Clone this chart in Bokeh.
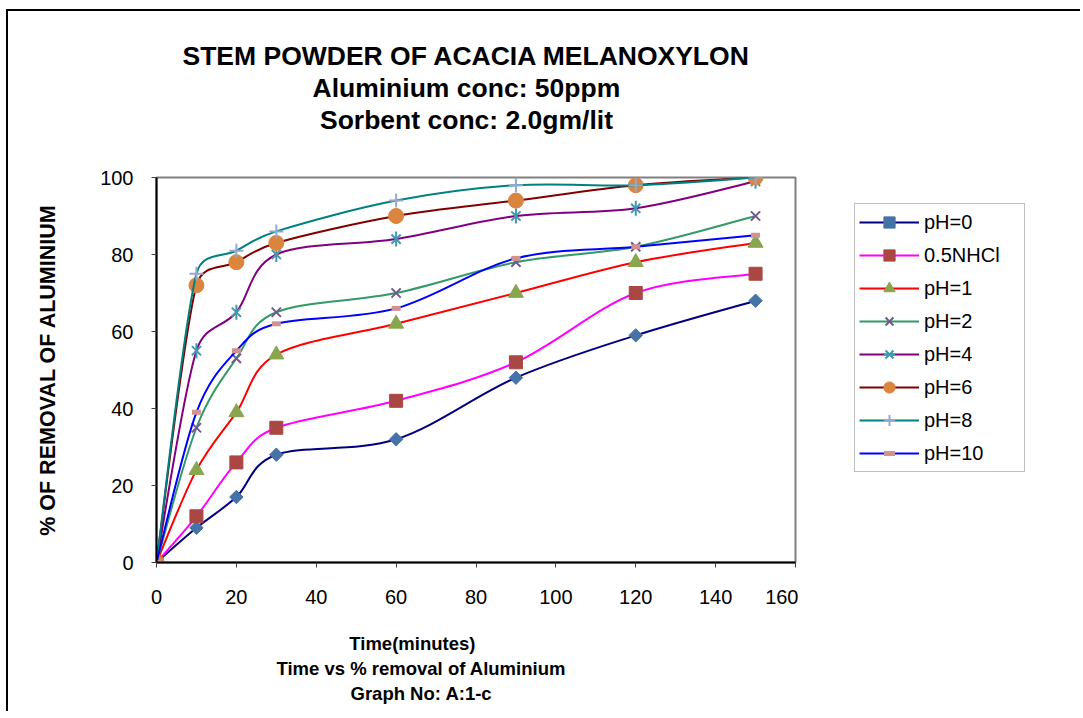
import numpy as np
from bokeh.plotting import figure
from bokeh.layouts import row
from bokeh.models import Range1d, FixedTicker, Title, Legend, LegendItem
from bokeh.embed import file_html
from bokeh.resources import INLINE

# ---------------- data ----------------
time_min = [0, 10, 20, 30, 60, 90, 120, 150]
ph0 = [0, 9, 17, 28, 32, 48, 59, 68]
nhcl = [0, 12, 26, 35, 42, 52, 70, 75]
ph1 = [0, 24, 39, 54, 62, 70, 78, 83]
ph2 = [0, 35, 53, 65, 70, 78, 82, 90]
ph4 = [0, 55, 65, 80, 84, 90, 92, 99]
ph6 = [0, 72, 78, 83, 90, 94, 98, 100]
ph8 = [0, 75, 81, 86, 94, 98, 98, 100]
ph10 = [0, 39, 55, 62, 66, 79, 82, 85]
series_names = ["pH=0", "0.5NHCl", "pH=1", "pH=2", "pH=4", "pH=6", "pH=8", "pH=10"]
series_values = [ph0, nhcl, ph1, ph2, ph4, ph6, ph8, ph10]
x_ticks = [0, 20, 40, 60, 80, 100, 120, 140, 160]
y_ticks = [0, 20, 40, 60, 80, 100]

title_lines = ["STEM POWDER OF ACACIA MELANOXYLON", "Aluminium conc: 50ppm", "Sorbent conc: 2.0gm/lit"]
xtitle_lines = ["Time(minutes)", "Time vs % removal of Aluminium", "Graph No: A:1-c"]
y_title = "% OF REMOVAL OF ALUMINIUM"

# ---------------- styles ----------------
line_colors = ["#000080", "#FF00FF", "#FF0000", "#339966", "#800080", "#800000", "#008080", "#0000FF"]
FONT = "Liberation Sans"

FRAME_W, FRAME_H = 639, 385
SX = FRAME_W / 160.0
SY = FRAME_H / 100.0


def smooth_controls(xs, ys):
    """Bezier control points in the style of a spreadsheet 'smoothed line'."""
    px = np.asarray(xs, float) * SX
    py = np.asarray(ys, float) * SY
    n = len(px)
    out = {k: [] for k in ("x0", "y0", "x1", "y1", "cx0", "cy0", "cx1", "cy1")}
    for i in range(n - 1):
        i0, i1, i2, i3 = max(i - 1, 0), i, i + 1, min(i + 2, n - 1)
        seg = np.hypot(px[i2] - px[i1], py[i2] - py[i1])
        t1 = np.array([px[i2] - px[i0], py[i2] - py[i0]]) / 6.0
        t2 = np.array([px[i3] - px[i1], py[i3] - py[i1]]) / 6.0
        for t in (t1, t2):
            ln = np.hypot(*t)
            if ln > 0.5 * seg and ln > 0:
                t *= 0.5 * seg / ln
        c1 = (px[i1] + t1[0], py[i1] + t1[1])
        c2 = (px[i2] - t2[0], py[i2] - t2[1])
        out["x0"].append(xs[i1]); out["y0"].append(ys[i1])
        out["x1"].append(xs[i2]); out["y1"].append(ys[i2])
        out["cx0"].append(c1[0] / SX); out["cy0"].append(c1[1] / SY)
        out["cx1"].append(c2[0] / SX); out["cy1"].append(c2[1] / SY)
    return out


# marker style per series: list of (marker, size, angle, line_width, fill, line colour)
marker_styles = {
    "pH=0": [("square", 9.5, np.pi / 4, 1, "#4572A7", "#4572A7")],
    "0.5NHCl": [("square", 13, 0, 1, "#AA4643", "#AA4643")],
    "pH=1": [("triangle", 15, 0, 1, "#89A54E", "#89A54E")],
    "pH=2": [("x", 13, 0, 2, None, "#71588F")],
    "pH=4": [("x", 13, 0, 2, None, "#4198AF"), ("dash", 15, np.pi / 2, 2, None, "#4198AF")],
    "pH=6": [("circle", 15, 0, 1, "#DB843D", "#DB843D")],
    "pH=8": [("cross", 14, 0, 2, None, "#93A9CF")],
    "pH=10": [("dash", 9, 0, 5, None, "#D19392")],
}

H = 700
p = figure(width=790, height=H, x_range=Range1d(0, 160), y_range=Range1d(0, 100),
           output_backend="svg", toolbar_location=None,
           min_border_left=148, min_border_right=3, min_border_top=166, min_border_bottom=149,
           background_fill_color="white", border_fill_color="white")

p.xgrid.visible = False
p.ygrid.visible = False
p.outline_line_color = "#808080"
p.outline_line_width = 2

p.xaxis.ticker = FixedTicker(ticks=x_ticks)
p.yaxis.ticker = FixedTicker(ticks=y_ticks)
for ax in (p.xaxis[0], p.yaxis[0]):
    ax.major_label_text_font = FONT
    ax.major_label_text_font_size = "20px"
    ax.major_label_text_color = "black"
    ax.major_tick_out = 5
    ax.major_tick_in = 0
    ax.minor_tick_out = 0
    ax.minor_tick_in = 0
    ax.axis_line_color = "black"
    ax.axis_line_width = 2
    ax.major_tick_line_color = "#404040"
p.xaxis.major_label_standoff = 22
p.yaxis.major_label_standoff = 18
p.yaxis.axis_label = y_title
p.yaxis.axis_label_text_font = FONT
p.yaxis.axis_label_text_font_style = "bold"
p.yaxis.axis_label_text_font_size = "21.5px"
p.yaxis.axis_label_text_color = "black"
p.yaxis.axis_label_standoff = 37

# legend panel: a second, axis-less figure to the right of the chart
# (its plot frame is aligned with the chart's frame by the row layout)
p2 = figure(width=282, height=H, x_range=Range1d(0, 1), y_range=Range1d(0, 1),
            output_backend="svg", toolbar_location=None, min_border=0,
            background_fill_color="white", border_fill_color="white")
p2.axis.visible = False
p2.grid.visible = False
p2.outline_line_color = None

items = []
for name, vals, lc in zip(series_names, series_values, line_colors):
    ctrl = smooth_controls(time_min, vals)
    p.bezier(line_color=lc, line_width=2, **ctrl)
    leg = [p2.line(x=[-2, -1], y=[-2, -2], line_color=lc, line_width=2)]
    for mk, sz, ang, lw, fc, mc in marker_styles[name]:
        p.scatter(time_min, vals, marker=mk, size=sz, angle=ang, line_width=lw,
                  fill_color=fc, line_color=mc)
        leg.append(p2.scatter(x=[-2], y=[-2], marker=mk, size=sz, angle=ang, line_width=lw,
                              fill_color=fc, line_color=mc))
    items.append(LegendItem(label=name, renderers=leg))

legend = Legend(items=items, location=(56, 90))
legend.label_text_font = FONT
legend.label_text_font_size = "20px"
legend.label_text_color = "black"
legend.glyph_width = 60
legend.glyph_height = 28
legend.label_height = 28
legend.label_width = 96
legend.label_standoff = 5
legend.spacing = 5
legend.padding = 4
legend.margin = 0
legend.border_line_color = "#808080"
legend.border_line_width = 1
legend.background_fill_color = "white"
legend.background_fill_alpha = 1
p2.add_layout(legend, "center")

# chart title lines: the first added sits closest to the plot
p.add_layout(Title(text=" ", text_font=FONT, text_font_size="26.5px", standoff=11), "above")
for txt, off in zip(reversed(title_lines), [163.5, 156, 26]):
    p.add_layout(Title(text=txt, align="left", offset=off, standoff=0,
                       text_font=FONT, text_font_style="bold", text_font_size="26.5px",
                       text_color="black"), "above")

# x-axis title block under the axis
p.add_layout(Title(text=" ", text_font=FONT, text_font_size="18.5px", standoff=0), "below")
for txt, off in zip(xtitle_lines, [192.8, 120, 194]):
    p.add_layout(Title(text=txt, align="left", offset=off, standoff=2,
                       text_font=FONT, text_font_style="bold", text_font_size="18.5px",
                       text_color="black"), "below")

page = row(p, p2)
page.margin = (9, 0, 0, 6)
page.styles = {"border-top": "2px solid black", "border-left": "2px solid black"}

open("out.html", "w").write(file_html(page, INLINE))
